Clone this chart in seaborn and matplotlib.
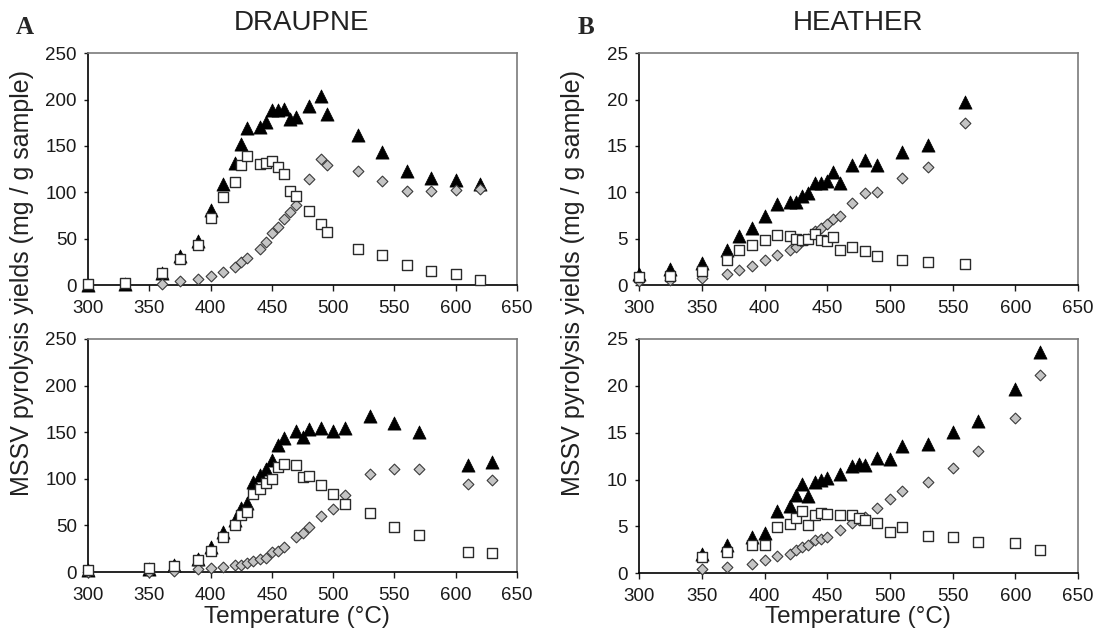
import matplotlib
matplotlib.use("Agg")
import matplotlib.pyplot as plt
import seaborn as sns

# --------------------------------------------------------------------------
# DRAUPNE, top panel
dr1_T = [300, 330, 360, 375, 390, 400, 410, 420, 425, 430, 440, 445, 450,
         455, 460, 465, 470, 480, 490, 495, 520, 540, 560, 580, 600, 620]
dr1_tri = [0, 1, 12.5, 31, 48, 81, 109, 132, 152, 169, 170, 176, 189,
           189, 190, 179, 181, 193, 204, 185, 162, 144, 123, 116, 113, 109]
dr1_sq = [1, 2, 12.5, 28, 43, 72, 95, 111, 129, 139, 131, 132, 134,
          127, 120, 101, 96, 80, 66, 57, 39, 32, 22, 15, 12, 5]
dr1_dia_T = dr1_T[2:]
dr1_dia = [1, 4, 6, 10, 14, 20, 25, 29, 39, 46, 56, 63, 71, 79, 86,
           114, 136, 129, 123, 112, 101, 101, 102, 104]

# DRAUPNE, bottom panel
dr2_T = [300, 350, 370, 390, 400, 410, 420, 425, 430, 435, 440, 445, 450,
         455, 460, 470, 475, 480, 490, 500, 510, 530, 550, 570, 610, 630]
dr2_tri = [2, 3.6, 7, 14, 27, 43, 56, 69, 74, 97, 104, 111, 120,
           136, 144, 151, 145, 153, 155, 151, 155, 167, 160, 150, 115, 118]
dr2_sq = [2, 4.7, 6.5, 12.6, 23, 38, 50, 61, 64, 84, 89, 96, 100,
          113, 116, 115, 102, 103, 93, 84, 73, 63, 48, 40, 22, 20]
dr2_dia = [0, 0, 1, 3, 4.7, 5.4, 7, 8, 9.3, 12, 14, 15.4, 21,
           23, 27, 38, 42, 48, 60, 68, 83, 105, 111, 110, 94, 99]

# HEATHER, top panel
he1_T = [300, 325, 350, 370, 380, 390, 400, 410, 420, 425, 430, 435,
         440, 445, 450, 455, 460, 470, 480, 490, 510, 530, 560]
he1_tri = [1.2, 1.7, 2.4, 3.8, 5.3, 6.1, 7.4, 8.7, 9.0, 9.0, 9.6, 9.9,
           11.0, 11.0, 11.2, 12.2, 11.0, 13.0, 13.5, 12.9, 14.4, 15.1, 19.7]
he1_sq = [0.9, 1.0, 1.5, 2.7, 3.8, 4.3, 4.9, 5.4, 5.3, 5.0, 4.9, 5.0,
          5.5, 4.9, 4.7, 5.2, 3.8, 4.1, 3.7, 3.1, 2.7, 2.5, 2.3]
he1_dia = [0.4, 0.5, 0.8, 1.2, 1.6, 2.1, 2.7, 3.2, 3.8, 4.1, 4.7, 5.0,
           5.8, 6.1, 6.6, 7.1, 7.4, 8.9, 9.9, 10.0, 11.6, 12.7, 17.5]

# HEATHER, bottom panel
he2_T = [350, 370, 390, 400, 410, 420, 425, 430, 435, 440, 445, 450,
         460, 470, 475, 480, 490, 500, 510, 530, 550, 570, 600, 620]
he2_tri = [2.1, 3.0, 3.85, 4.3, 6.6, 7.2, 8.4, 9.5, 8.2, 9.7, 10.0, 10.2,
           10.6, 11.45, 11.7, 11.6, 12.3, 12.2, 13.6, 13.8, 15.1, 16.3, 19.7, 23.6]
he2_sq = [1.7, 2.3, 3.0, 3.0, 4.9, 5.3, 5.9, 6.7, 5.2, 6.2, 6.4, 6.3,
          6.2, 6.2, 5.9, 5.7, 5.4, 4.4, 4.9, 4.0, 3.9, 3.3, 3.2, 2.5]
he2_dia = [0.5, 0.7, 1.0, 1.4, 1.8, 2.1, 2.5, 2.8, 3.0, 3.5, 3.7, 3.9,
           4.6, 5.4, 5.7, 6.0, 7.0, 7.9, 8.8, 9.7, 11.2, 13.0, 16.6, 21.2]

x_ticks = [300, 350, 400, 450, 500, 550, 600, 650]
# --------------------------------------------------------------------------

sns.set_theme(style="ticks")
plt.rcParams["font.family"] = ["Liberation Sans", "DejaVu Sans"]

fig = plt.figure(figsize=(11, 6.42), dpi=100)

# left, bottom, width, height (figure fractions)
pos = {
    "a1": [0.080, 0.556, 0.390, 0.361],
    "a2": [0.080, 0.109, 0.390, 0.363],
    "b1": [0.581, 0.556, 0.399, 0.361],
    "b2": [0.581, 0.107, 0.399, 0.365],
}


def draw(ax, tri_T, tri, sq_T, sq, dia_T, dia, ymax, ystep):
    sns.scatterplot(x=tri_T, y=tri, marker="^", s=90, color="black",
                    edgecolor="black", linewidth=0.5, ax=ax, clip_on=False, zorder=3)
    sns.scatterplot(x=dia_T, y=dia, marker="D", s=30, color="#c4c4c4",
                    edgecolor="#3a3a3a", linewidth=0.8, ax=ax, clip_on=False, zorder=4)
    sns.scatterplot(x=sq_T, y=sq, marker="s", s=54, color="white",
                    edgecolor="#2a2a2a", linewidth=1.0, ax=ax, clip_on=False, zorder=5)
    ax.set_xlim(300, 650)
    ax.set_ylim(0, ymax)
    ax.set_xticks(x_ticks)
    ax.set_yticks(range(0, ymax + 1, ystep))
    ax.set_xlabel("")
    ax.set_ylabel("")
    ax.tick_params(axis="x", direction="out", length=4.5, width=1, pad=6,
                   labelsize=13.5, colors="#1a1a1a")
    ax.tick_params(axis="y", direction="out", length=3, width=1, pad=5,
                   labelsize=13.5, colors="#1a1a1a")
    for side in ["left", "bottom"]:
        ax.spines[side].set_color("black")
        ax.spines[side].set_linewidth(1.2)
    for side in ["top", "right"]:
        ax.spines[side].set_visible(True)
        ax.spines[side].set_color("#7a7a7a")
        ax.spines[side].set_linewidth(1.2)


ax = fig.add_axes(pos["a1"])
draw(ax, dr1_T, dr1_tri, dr1_T, dr1_sq, dr1_dia_T, dr1_dia, 250, 50)
ax = fig.add_axes(pos["a2"])
draw(ax, dr2_T, dr2_tri, dr2_T, dr2_sq, dr2_T, dr2_dia, 250, 50)
ax = fig.add_axes(pos["b1"])
draw(ax, he1_T, he1_tri, he1_T, he1_sq, he1_T, he1_dia, 25, 5)
ax = fig.add_axes(pos["b2"])
draw(ax, he2_T, he2_tri, he2_T, he2_sq, he2_T, he2_dia, 25, 5)

W, H = 1100, 642
fig.text(302 / W, 1 - 23 / H, "DRAUPNE", fontsize=20, ha="center", va="center", color="#222222")
fig.text(858 / W, 1 - 23 / H, "HEATHER", fontsize=20, ha="center", va="center", color="#222222")
fig.text(25 / W, 1 - 28 / H, "A", fontsize=18, fontweight="bold", family="Liberation Serif",
         ha="center", va="center")
fig.text(586 / W, 1 - 28 / H, "B", fontsize=18, fontweight="bold", family="Liberation Serif",
         ha="center", va="center")

ylab = "MSSV pyrolysis yields (mg / g sample)"
fig.text(22 / W, 1 - 283 / H, ylab, fontsize=18, rotation=90, ha="center", va="center",
         color="#222222")
fig.text(573 / W, 1 - 283 / H, ylab, fontsize=18, rotation=90, ha="center", va="center",
         color="#222222")
fig.text(297 / W, 1 - 617 / H, "Temperature (°C)", fontsize=17.5, ha="center", va="center",
         color="#222222")
fig.text(858 / W, 1 - 617 / H, "Temperature (°C)", fontsize=17.5, ha="center", va="center",
         color="#222222")

fig.savefig("out.png", dpi=100)
